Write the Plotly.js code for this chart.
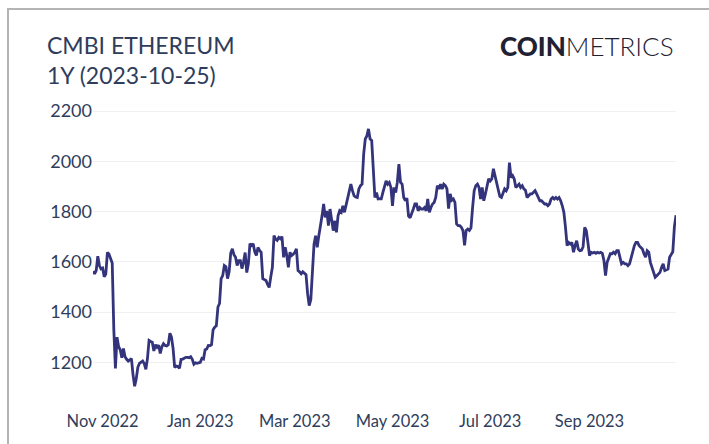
<!DOCTYPE html>
<html>
<head>
<meta charset="utf-8">
<script src="https://cdn.plot.ly/plotly-3.0.1.min.js"></script>
<style>
  html, body { margin: 0; padding: 0; background: #ffffff; }
  #wrap { position: relative; width: 709px; height: 444px; overflow: hidden; }
  #chart { position: absolute; left: 0; top: 0; width: 709px; height: 444px; }
  #frame { position: absolute; left: 7px; top: 8px; width: 720px; height: 460px;
           border-left: 2px solid #b4b4b4; border-top: 2px solid #b4b4b4; pointer-events: none; }
</style>
</head>
<body>
<div id="wrap">
  <div id="chart"></div>
  <div id="frame"></div>
</div>
<script>
// Daily CMBI Ethereum price (USD), one value per day starting 2022-10-26
const startDate = '2022-10-26';
const oct2022 = [1562, 1552, 1565, 1622, 1585, 1572];
const nov2022 = [1575, 1541, 1551, 1638, 1630, 1612, 1595, 1330, 1176, 1300,
                 1262, 1250, 1218, 1255, 1222, 1212, 1205, 1210, 1215, 1150,
                 1105, 1135, 1180, 1196, 1200, 1205, 1195, 1172, 1215, 1287];
const dec2022 = [1283, 1280, 1245, 1270, 1260, 1268, 1235, 1262, 1274, 1267,
                 1265, 1270, 1316, 1300, 1255, 1180, 1185, 1183, 1176, 1212,
                 1213, 1217, 1220, 1220, 1218, 1222, 1212, 1192, 1198, 1196, 1197];
const jan2023 = [1200, 1216, 1213, 1250, 1253, 1267, 1266, 1270, 1330, 1340,
                 1345, 1420, 1434, 1533, 1545, 1585, 1580, 1533, 1560, 1635,
                 1652, 1628, 1618, 1585, 1605, 1605, 1573, 1600, 1637, 1557, 1592];
const feb2023 = [1672, 1665, 1672, 1640, 1625, 1657, 1645, 1638, 1533, 1530,
                 1526, 1510, 1498, 1540, 1578, 1704, 1690, 1685, 1697, 1692,
                 1700, 1618, 1658, 1625, 1578, 1638, 1625, 1630];
const mar2023 = [1638, 1652, 1565, 1560, 1552, 1560, 1555, 1549, 1473, 1426,
                 1450, 1578, 1670, 1704, 1658, 1704, 1737, 1783, 1830, 1777,
                 1803, 1744, 1810, 1771, 1724, 1763, 1717, 1783, 1803, 1797, 1823];
const apr2023 = [1797, 1823, 1856, 1880, 1909, 1883, 1863, 1858, 1856, 1890,
                 1903, 1909, 2029, 2089, 2101, 2129, 2089, 2083, 1990, 1856,
                 1876, 1850, 1851, 1851, 1876, 1900, 1922, 1909, 1916, 1896];
const may2023 = [1823, 1896, 1876, 1916, 1989, 1916, 1909, 1856, 1843, 1853,
                 1783, 1775, 1797, 1810, 1830, 1830, 1803, 1816, 1810, 1810,
                 1816, 1803, 1850, 1797, 1816, 1830, 1836, 1856, 1903, 1890, 1909];
const jun2023 = [1890, 1909, 1903, 1890, 1812, 1870, 1845, 1850, 1836, 1751,
                 1744, 1744, 1737, 1724, 1665, 1725, 1730, 1725, 1735, 1816,
                 1883, 1903, 1909, 1896, 1850, 1896, 1843, 1870, 1900, 1930];
const jul2023 = [1922, 1930, 1970, 1943, 1909, 1876, 1860, 1856, 1870, 1890,
                 1883, 1896, 1995, 1935, 1943, 1930, 1896, 1903, 1909, 1896,
                 1903, 1890, 1885, 1856, 1863, 1870, 1870, 1876, 1883, 1870, 1856];
const aug2023 = [1843, 1843, 1836, 1830, 1830, 1823, 1830, 1850, 1856, 1850,
                 1856, 1850, 1856, 1843, 1823, 1797, 1737, 1664, 1677, 1671,
                 1677, 1638, 1664, 1684, 1651, 1644, 1646, 1660, 1737, 1724, 1677];
const sep2023 = [1625, 1638, 1635, 1638, 1634, 1638, 1635, 1638, 1634, 1605,
                 1545, 1598, 1612, 1632, 1632, 1638, 1632, 1644, 1644, 1612,
                 1592, 1598, 1592, 1592, 1585, 1592, 1618, 1650, 1664, 1677];
const oct2023 = [1677, 1664, 1658, 1651, 1632, 1618, 1644, 1638, 1598, 1578,
                 1565, 1539, 1545, 1552, 1558, 1578, 1592, 1565, 1568, 1571,
                 1618, 1632, 1640, 1740, 1785];

const yTickVals = [1200, 1400, 1600, 1800, 2000, 2200];
const titleText = 'CMBI ETHEREUM<br>1Y (2023-10-25)';

const prices = [].concat(oct2022, nov2022, dec2022, jan2023, feb2023, mar2023,
  apr2023, may2023, jun2023, jul2023, aug2023, sep2023, oct2023);

const dates = prices.map((_, i) => {
  const d = new Date(startDate + 'T00:00:00Z');
  d.setUTCDate(d.getUTCDate() + i);
  return d.toISOString().slice(0, 10);
});

const textColor = '#2f3d5c';
const trace = {
  x: dates,
  y: prices,
  type: 'scatter',
  mode: 'lines',
  line: { color: '#34347c', width: 2.8 },
  hoverinfo: 'x+y'
};

const layout = {
  width: 709,
  height: 444,
  paper_bgcolor: '#ffffff',
  plot_bgcolor: '#ffffff',
  margin: { l: 93, r: 33, t: 101, b: 44 },
  showlegend: false,
  font: { family: 'Lato, sans-serif', color: textColor },
  title: {
    text: titleText,
    xref: 'container', x: 47 / 709, xanchor: 'left',
    yref: 'container', y: 1 - 54 / 444, yanchor: 'top',
    font: { family: 'Lato, sans-serif', size: 23, color: textColor }
  },
  xaxis: {
    type: 'date',
    range: [dates[0], dates[dates.length - 1]],
    tickformat: '%b %Y',
    dtick: 'M2',
    tick0: '2022-11-01',
    showgrid: false,
    zeroline: false,
    showline: false,
    ticks: '',
    ticklabelstandoff: 9,
    tickfont: { family: 'Lato, sans-serif', size: 16.5, color: textColor }
  },
  yaxis: {
    range: [1050, 2240],
    tickvals: yTickVals,
    showgrid: true,
    gridcolor: '#f0f0f0',
    gridwidth: 1,
    zeroline: false,
    showline: false,
    ticks: '',
    tickfont: { family: 'Lato, sans-serif', size: 18, color: textColor }
  },
  annotations: [{
    xref: 'paper', yref: 'paper',
    x: 1, y: (400 - 46) / 299,
    xanchor: 'right', yanchor: 'middle',
    showarrow: false,
    text: '<span style="font-weight:900">COIN</span><span style="font-weight:300">METRICS</span>',
    font: { family: 'Lato, sans-serif', size: 26, color: '#1f2233' }
  }]
};

Plotly.newPlot('chart', [trace], layout, { displayModeBar: false, staticPlot: true });
</script>
</body>
</html>
